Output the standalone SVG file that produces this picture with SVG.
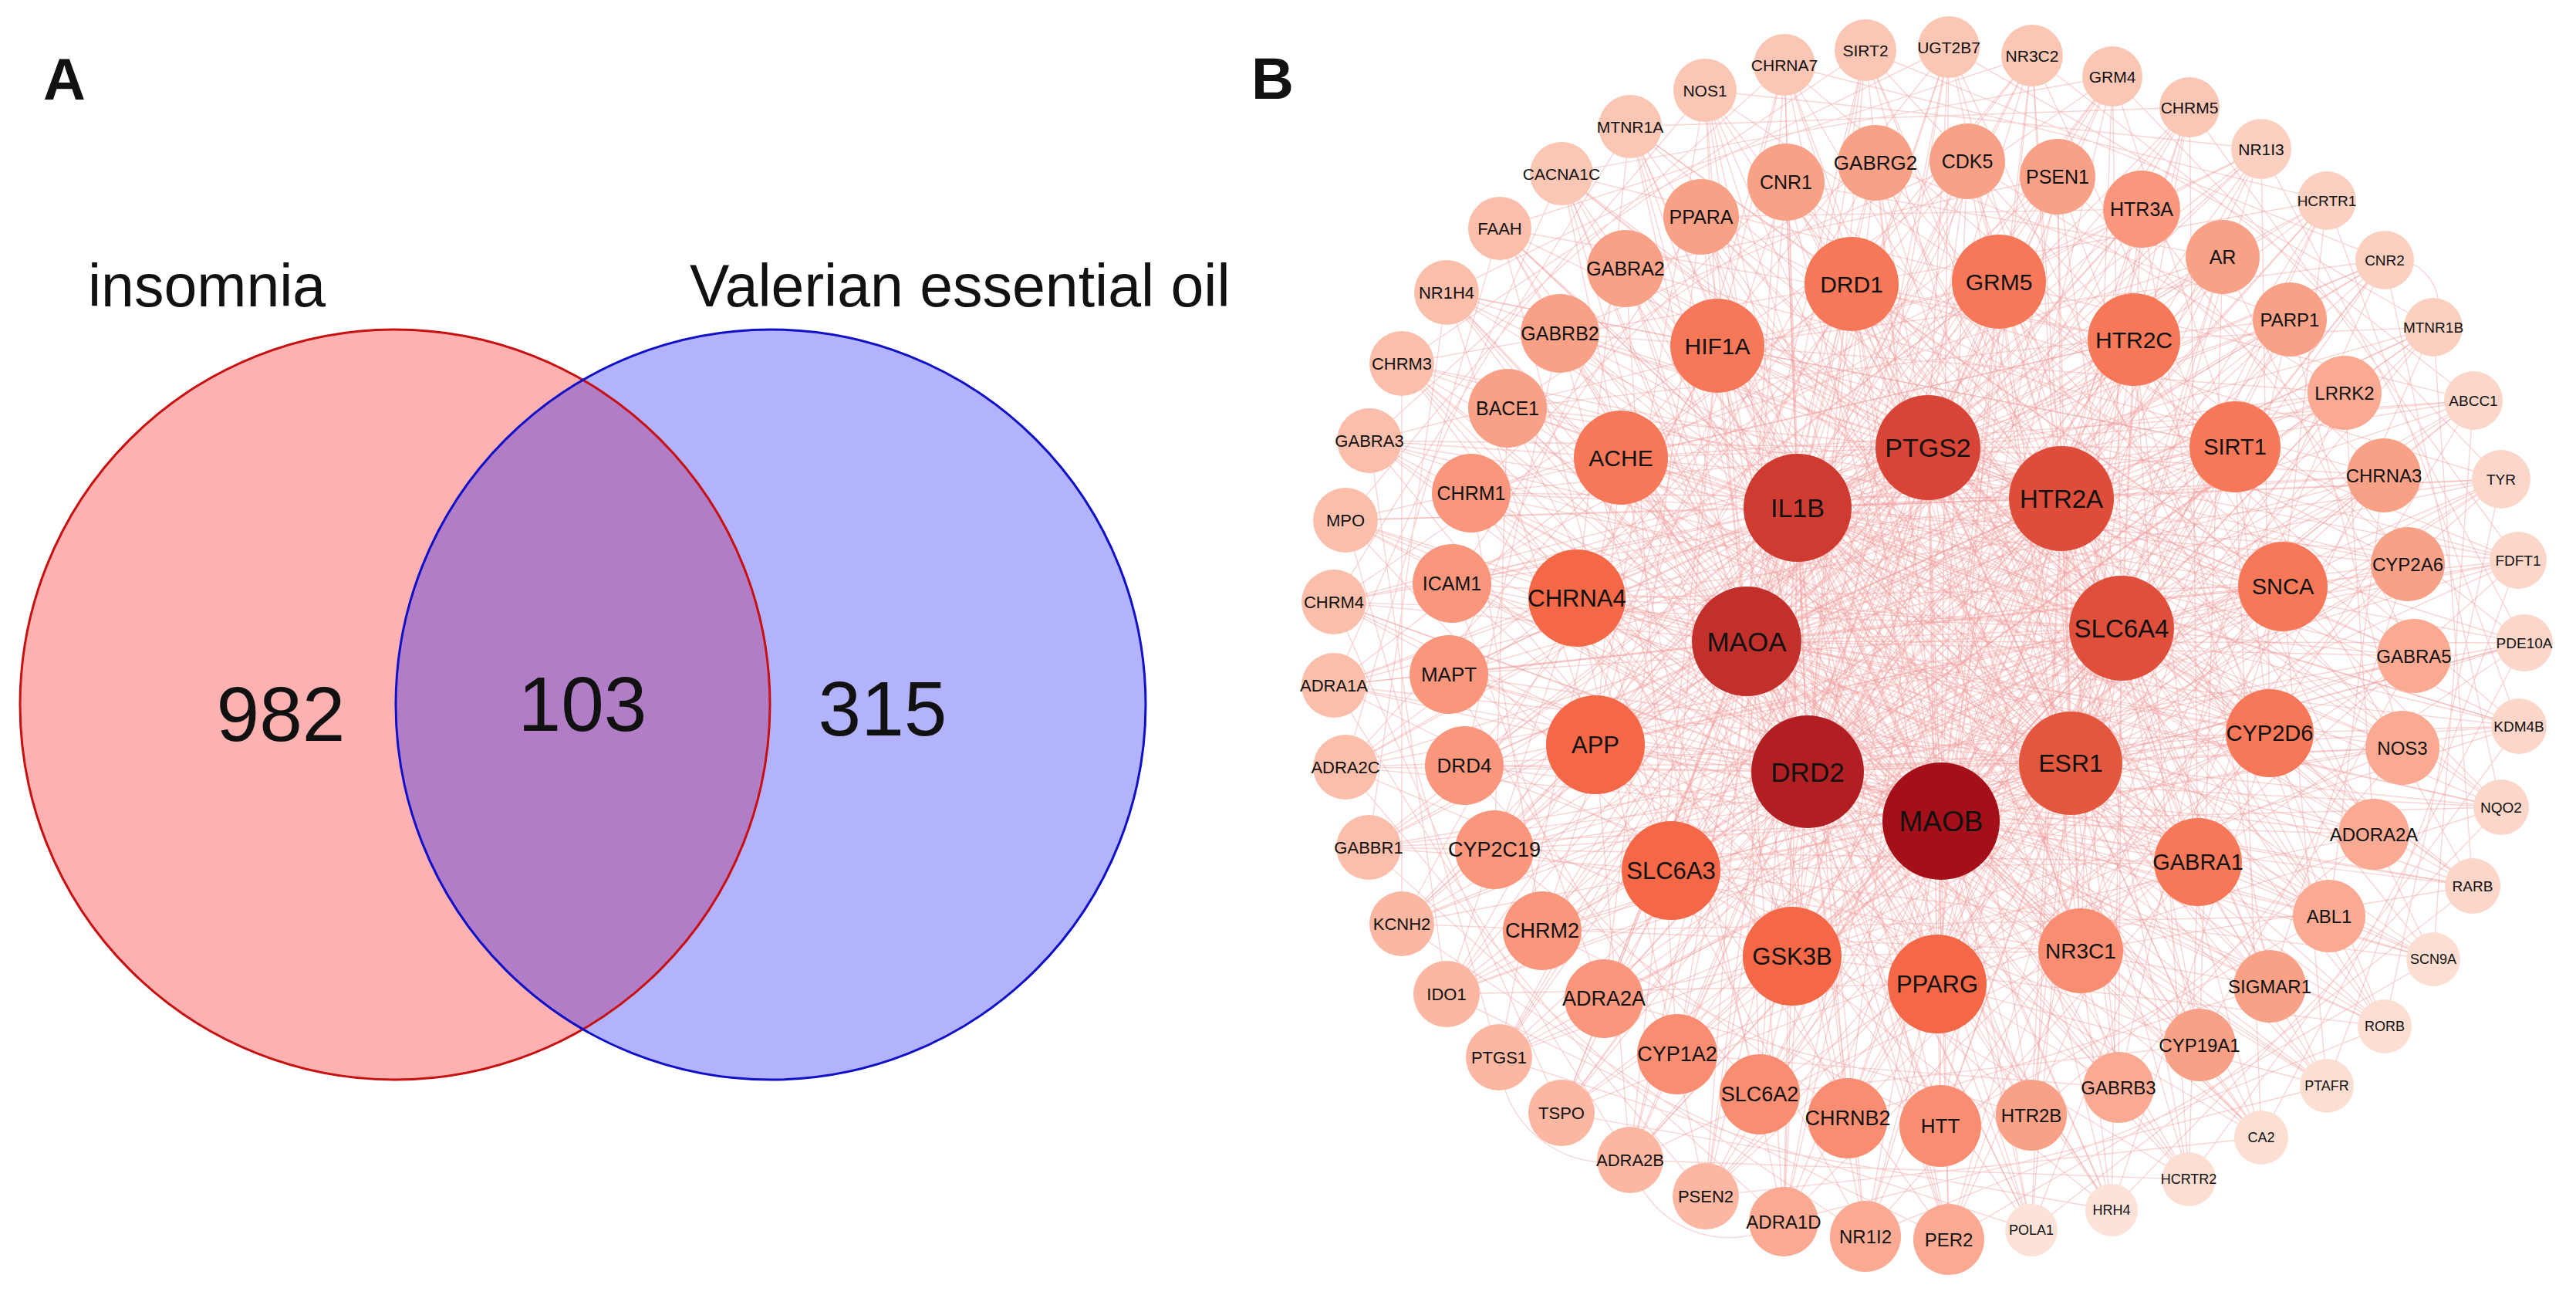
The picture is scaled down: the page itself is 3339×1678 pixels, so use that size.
<svg xmlns="http://www.w3.org/2000/svg" width="3339" height="1678" viewBox="0 0 3339 1678">
<style>
text{font-family:"Liberation Sans",Arial,Helvetica,sans-serif;fill:#111}
.n{text-anchor:middle;dominant-baseline:central}
.pl{font-weight:bold;font-size:76px}
.vl{font-size:77px}
.vn{font-size:100px;text-anchor:middle}
.e{fill:none;stroke:#F19C9C;stroke-opacity:.42;stroke-width:1.4;stroke-linejoin:round}
.l1{fill:#FDE2D8}.l2{fill:#FDDED2}.l3{fill:#FCD6C8}.l4{fill:#FCD0C1}.l5{fill:#FBC6B4}.l6{fill:#FBBEAA}.l7{fill:#FBB7A2}
.l8{fill:#FAAA92}.l9{fill:#F9A187}.l10{fill:#F9967C}.l11{fill:#F88D72}.l12{fill:#F77858}.l13{fill:#F46747}
.c1{fill:#D84536}.c2{fill:#DD4D3A}.c3{fill:#DF4F3B}.c4{fill:#E4573F}.c5{fill:#A40F18}.c6{fill:#B21F23}.c7{fill:#C3302B}.c8{fill:#CF3B31}
</style>
<defs>
<clipPath id="clipL"><circle cx="512" cy="913" r="486"/></clipPath>
</defs>
<rect width="3339" height="1678" fill="#fff"/>

<g id="panel-A">
<text class="pl" x="56" y="129">A</text>
<g id="venn">
<circle id="set-insomnia" cx="512" cy="913" r="486" fill="#FDB1B1"/>
<circle id="set-valerian" cx="999" cy="913" r="486" fill="#B2B2FD"/>
<circle id="set-overlap" cx="999" cy="913" r="486" fill="#B17DC7" clip-path="url(#clipL)"/>
<circle cx="512" cy="913" r="486" fill="none" stroke="#C81010" stroke-width="3"/>
<circle cx="999" cy="913" r="486" fill="none" stroke="#1010C8" stroke-width="3"/>
</g>
<text class="vl" x="114" y="397">insomnia</text>
<text class="vl" x="894" y="397">Valerian essential oil</text>
<text class="vn" x="364" y="960">982</text>
<text class="vn" x="755" y="947">103</text>
<text class="vn" x="1144" y="953">315</text>
</g>

<text class="pl" x="1622" y="128">B</text>

<g id="connectors">
<path class="e" d="M2210 117 2516 1064 2113 164 2516 1064 2024 225 2516 1064 1944 296 2516 1064 1875 379 2516 1064 1817 471 2516 1064 1775 571 2516 1064 1744 674 2516 1064 1729 780 2516 1064 1729 888 2516 1064 1744 994 2516 1064 1774 1098 2516 1064 1817 1197 2516 1064 1875 1288 2516 1064 1943 1370 2516 1064 2024 1442 2516 1064 2113 1503 2516 1064 2211 1550 2516 1064 2312 1583 2516 1064 2418 1602 2516 1064 2526 1606 2516 1064 2633 1594 2516 1064 2737 1568 2516 1064 2837 1528 2516 1064 2931 1474 2516 1064 3016 1407 2516 1064 3091 1330 2516 1064 3154 1243 2516 1064 3205 1148 2516 1064 3242 1046 2516 1064 3265 941 2516 1064 3272 833 2516 1064 3264 726 2516 1064 3242 621 2516 1064 3206 519 2516 1064 3154 424 2516 1064 3091 337 2516 1064 3016 260 2516 1064 2931 193 2516 1064 2838 139 2516 1064 2738 99 2516 1064 2634 72 2516 1064 2526 61 2516 1064 2418 65 2516 1064 2313 84 2516 1064 2205 281 2516 1064 2107 348 2516 1064 2022 432 2516 1064 1954 529 2516 1064 1907 639 2516 1064 1882 756 2516 1064 1878 874 2516 1064 1898 992 2516 1064 1937 1101 2516 1064 1999 1206 2516 1064 2079 1294 2516 1064 2174 1366 2516 1064 2281 1418 2516 1064 2395 1449 2516 1064 2515 1459 2516 1064 2633 1445 2516 1064 2746 1409 2516 1064 2851 1354 2516 1064 2942 1278 2516 1064 3019 1187 2516 1064 3077 1081 2516 1064 3114 969 2516 1064 3129 850 2516 1064 3121 731 2516 1064 3090 616 2516 1064 3039 509 2516 1064 2968 414 2516 1064 2881 333 2516 1064 2776 271 2516 1064 2667 229 2516 1064 2550 209 2516 1064 2431 211 2516 1064 2315 236 2516 1064 2226 448 2516 1064 2400 368 2516 1064 2591 365 2516 1064 2766 440 2516 1064 2897 579 2516 1064 2959 760 2516 1064 2942 950 2516 1064 2849 1117 2516 1064 2697 1232 2516 1064 2511 1275 2516 1064 2323 1239 2516 1064 2166 1128 2516 1064 2068 965 2516 1064 2044 775 2516 1064 2101 593"/>
<path class="e" d="M2210 117 2343 1000 2113 164 2343 1000 2024 225 2343 1000 1944 296 2343 1000 1875 379 2343 1000 1817 471 2343 1000 1775 571 2343 1000 1744 674 2343 1000 1729 780 2343 1000 1729 888 2343 1000 1744 994 2343 1000 1774 1098 2343 1000 1817 1197 2343 1000 1875 1288 2343 1000 1943 1370 2343 1000 2024 1442 2343 1000 2113 1503 2343 1000 2211 1550 2343 1000 2312 1583 2343 1000 2418 1602 2343 1000 2526 1606 2343 1000 2633 1594 2343 1000 2737 1568 2343 1000 2837 1528 2343 1000 2931 1474 2343 1000 3016 1407 2343 1000 3091 1330 2343 1000 3154 1243 2343 1000 3205 1148 2343 1000 3242 1046 2343 1000 3265 941 2343 1000 3272 833 2343 1000 3264 726 2343 1000 3242 621 2343 1000 3206 519 2343 1000 3154 424 2343 1000 3091 337 2343 1000 3016 260 2343 1000 2931 193 2343 1000 2838 139 2343 1000 2738 99 2343 1000 2634 72 2343 1000 2526 61 2343 1000 2418 65 2343 1000 2313 84 2343 1000 2205 281 2343 1000 2107 348 2343 1000 2022 432 2343 1000 1954 529 2343 1000 1907 639 2343 1000 1882 756 2343 1000 1878 874 2343 1000 1898 992 2343 1000 1937 1101 2343 1000 1999 1206 2343 1000 2079 1294 2343 1000 2174 1366 2343 1000 2281 1418 2343 1000 2395 1449 2343 1000 2515 1459 2343 1000 2633 1445 2343 1000 2746 1409 2343 1000 2851 1354 2343 1000 2942 1278 2343 1000 3019 1187 2343 1000 3077 1081 2343 1000 3114 969 2343 1000 3129 850 2343 1000 3121 731 2343 1000 3090 616 2343 1000 3039 509 2343 1000 2968 414 2343 1000 2881 333 2343 1000 2776 271 2343 1000 2667 229 2343 1000 2550 209 2343 1000 2431 211 2343 1000 2315 236 2343 1000 2226 448 2343 1000 2400 368 2343 1000 2591 365 2343 1000 2766 440 2343 1000 2897 579 2343 1000 2959 760 2343 1000 2942 950 2343 1000 2849 1117 2343 1000 2697 1232 2343 1000 2511 1275 2343 1000 2323 1239 2343 1000 2166 1128 2343 1000 2068 965 2343 1000 2044 775 2343 1000 2101 593"/>
<path class="e" d="M2210 117 2264 831 2113 164 2264 831 2024 225 2264 831 1944 296 2264 831 1875 379 2264 831 1817 471 2264 831 1775 571 2264 831 1744 674 2264 831 1729 780 2264 831 1729 888 2264 831 1744 994 2264 831 1774 1098 2264 831 1817 1197 2264 831 1875 1288 2264 831 1943 1370 2264 831 2024 1442 2264 831 2113 1503 2264 831 2211 1550 2264 831 2312 1583 2264 831 2418 1602 2264 831 2526 1606 2264 831 2633 1594 2264 831 2737 1568 2264 831 2837 1528 2264 831 2931 1474 2264 831 3016 1407 2264 831 3091 1330 2264 831 3154 1243 2264 831 3205 1148 2264 831 3242 1046 2264 831 3265 941 2264 831 3272 833 2264 831 3264 726 2264 831 3242 621 2264 831 3206 519 2264 831 3154 424 2264 831 3091 337 2264 831 3016 260 2264 831 2931 193 2264 831 2838 139 2264 831 2738 99 2264 831 2634 72 2264 831 2526 61 2264 831 2418 65 2264 831 2313 84 2264 831 2205 281 2264 831 2107 348 2264 831 2022 432 2264 831 1954 529 2264 831 1907 639 2264 831 1882 756 2264 831 1878 874 2264 831 1898 992 2264 831 1937 1101 2264 831 1999 1206 2264 831 2079 1294 2264 831 2174 1366 2264 831 2281 1418 2264 831 2395 1449 2264 831 2515 1459 2264 831 2633 1445 2264 831 2746 1409 2264 831 2851 1354 2264 831 2942 1278 2264 831 3019 1187 2264 831 3077 1081 2264 831 3114 969 2264 831 3129 850 2264 831 3121 731 2264 831 3090 616 2264 831 3039 509 2264 831 2968 414 2264 831 2881 333 2264 831 2776 271 2264 831 2667 229 2264 831 2550 209 2264 831 2431 211 2264 831 2315 236 2264 831 2226 448 2264 831 2400 368 2264 831 2591 365 2264 831 2766 440 2264 831 2897 579 2264 831 2959 760 2264 831 2942 950 2264 831 2849 1117 2264 831 2697 1232 2264 831 2511 1275 2264 831 2323 1239 2264 831 2166 1128 2264 831 2068 965 2264 831 2044 775 2264 831 2101 593"/>
<path class="e" d="M2210 117 2330 658 2113 164 2330 658 2024 225 2330 658 1944 296 2330 658 1875 379 2330 658 1817 471 2330 658 1775 571 2330 658 1744 674 2330 658 1729 780 2330 658 1729 888 2330 658 1744 994 2330 658 1774 1098 2330 658 1817 1197 2330 658 1875 1288 2330 658 1943 1370 2330 658 2024 1442 2330 658 2113 1503 2330 658 2211 1550 2330 658 2312 1583 2330 658 2418 1602 2330 658 2526 1606 2330 658 2633 1594 2330 658 2737 1568 2330 658 2837 1528 2330 658 2931 1474 2330 658 3016 1407 2330 658 3091 1330 2330 658 3154 1243 2330 658 3205 1148 2330 658 3242 1046 2330 658 3265 941 2330 658 3272 833 2330 658 3264 726 2330 658 3242 621 2330 658 3206 519 2330 658 3154 424 2330 658 3091 337 2330 658 3016 260 2330 658 2931 193 2330 658 2838 139 2330 658 2738 99 2330 658 2634 72 2330 658 2526 61 2330 658 2418 65 2330 658 2313 84 2330 658 2205 281 2330 658 2107 348 2330 658 2022 432 2330 658 1954 529 2330 658 1907 639 2330 658 1882 756 2330 658 1878 874 2330 658 1898 992 2330 658 1937 1101 2330 658 1999 1206 2330 658 2079 1294 2330 658 2174 1366 2330 658 2281 1418 2330 658 2395 1449 2330 658 2515 1459 2330 658 2633 1445 2330 658 2746 1409 2330 658 2851 1354 2330 658 2942 1278 2330 658 3019 1187 2330 658 3077 1081 2330 658 3114 969 2330 658 3129 850 2330 658 3121 731 2330 658 3090 616 2330 658 3039 509 2330 658 2968 414 2330 658 2881 333 2330 658 2776 271 2330 658 2667 229 2330 658 2550 209 2330 658 2431 211 2330 658 2315 236 2330 658 2226 448 2330 658 2400 368 2330 658 2591 365 2330 658 2766 440 2330 658 2897 579 2330 658 2959 760 2330 658 2942 950 2330 658 2849 1117 2330 658 2697 1232 2330 658 2511 1275 2330 658 2323 1239 2330 658 2166 1128 2330 658 2068 965 2330 658 2044 775 2330 658 2101 593"/>
<path class="e" d="M2210 117 2499 580 2024 225 2499 580 1875 379 2499 580 1775 571 2499 580 1729 780 2499 580 1744 994 2499 580 1817 1197 2499 580 1943 1370 2499 580 2113 1503 2499 580 2312 1583 2499 580 2526 1606 2499 580 2737 1568 2499 580 2931 1474 2499 580 3091 1330 2499 580 3205 1148 2499 580 3265 941 2499 580 3264 726 2499 580 3206 519 2499 580 3091 337 2499 580 2931 193 2499 580 2738 99 2499 580 2526 61 2499 580 2313 84 2499 580 2205 281 2499 580 2107 348 2499 580 2022 432 2499 580 1954 529 2499 580 1907 639 2499 580 1882 756 2499 580 1878 874 2499 580 1898 992 2499 580 1937 1101 2499 580 1999 1206 2499 580 2079 1294 2499 580 2174 1366 2499 580 2281 1418 2499 580 2395 1449 2499 580 2515 1459 2499 580 2633 1445 2499 580 2746 1409 2499 580 2851 1354 2499 580 2942 1278 2499 580 3019 1187 2499 580 3077 1081 2499 580 3114 969 2499 580 3129 850 2499 580 3121 731 2499 580 3090 616 2499 580 3039 509 2499 580 2968 414 2499 580 2881 333 2499 580 2776 271 2499 580 2667 229 2499 580 2550 209 2499 580 2431 211 2499 580 2315 236 2499 580 2226 448 2499 580 2400 368 2499 580 2591 365 2499 580 2766 440 2499 580 2897 579 2499 580 2959 760 2499 580 2942 950 2499 580 2849 1117 2499 580 2697 1232 2499 580 2511 1275 2499 580 2323 1239 2499 580 2166 1128 2499 580 2068 965 2499 580 2044 775 2499 580 2101 593"/>
<path class="e" d="M2113 164 2672 646 1944 296 2672 646 1817 471 2672 646 1744 674 2672 646 1729 888 2672 646 1774 1098 2672 646 1875 1288 2672 646 2024 1442 2672 646 2211 1550 2672 646 2418 1602 2672 646 2633 1594 2672 646 2837 1528 2672 646 3016 1407 2672 646 3154 1243 2672 646 3242 1046 2672 646 3272 833 2672 646 3242 621 2672 646 3154 424 2672 646 3016 260 2672 646 2838 139 2672 646 2634 72 2672 646 2418 65 2672 646 2205 281 2672 646 2107 348 2672 646 2022 432 2672 646 1954 529 2672 646 1907 639 2672 646 1882 756 2672 646 1878 874 2672 646 1898 992 2672 646 1937 1101 2672 646 1999 1206 2672 646 2079 1294 2672 646 2174 1366 2672 646 2281 1418 2672 646 2395 1449 2672 646 2515 1459 2672 646 2633 1445 2672 646 2746 1409 2672 646 2851 1354 2672 646 2942 1278 2672 646 3019 1187 2672 646 3077 1081 2672 646 3114 969 2672 646 3129 850 2672 646 3121 731 2672 646 3090 616 2672 646 3039 509 2672 646 2968 414 2672 646 2881 333 2672 646 2776 271 2672 646 2667 229 2672 646 2550 209 2672 646 2431 211 2672 646 2315 236 2672 646 2226 448 2672 646 2400 368 2672 646 2591 365 2672 646 2766 440 2672 646 2897 579 2672 646 2959 760 2672 646 2942 950 2672 646 2849 1117 2672 646 2697 1232 2672 646 2511 1275 2672 646 2323 1239 2672 646 2166 1128 2672 646 2068 965 2672 646 2044 775 2672 646 2101 593"/>
<path class="e" d="M2210 117 2750 814 2024 225 2750 814 1875 379 2750 814 1775 571 2750 814 1729 780 2750 814 1744 994 2750 814 1817 1197 2750 814 1943 1370 2750 814 2113 1503 2750 814 2312 1583 2750 814 2526 1606 2750 814 2737 1568 2750 814 2931 1474 2750 814 3091 1330 2750 814 3205 1148 2750 814 3265 941 2750 814 3264 726 2750 814 3206 519 2750 814 3091 337 2750 814 2931 193 2750 814 2738 99 2750 814 2526 61 2750 814 2313 84 2750 814 2205 281 2750 814 2107 348 2750 814 2022 432 2750 814 1954 529 2750 814 1907 639 2750 814 1882 756 2750 814 1878 874 2750 814 1898 992 2750 814 1937 1101 2750 814 1999 1206 2750 814 2079 1294 2750 814 2174 1366 2750 814 2281 1418 2750 814 2395 1449 2750 814 2515 1459 2750 814 2633 1445 2750 814 2746 1409 2750 814 2851 1354 2750 814 2942 1278 2750 814 3019 1187 2750 814 3077 1081 2750 814 3114 969 2750 814 3129 850 2750 814 3121 731 2750 814 3090 616 2750 814 3039 509 2750 814 2968 414 2750 814 2881 333 2750 814 2776 271 2750 814 2667 229 2750 814 2550 209 2750 814 2431 211 2750 814 2315 236 2750 814 2226 448 2750 814 2400 368 2750 814 2591 365 2750 814 2766 440 2750 814 2897 579 2750 814 2959 760 2750 814 2942 950 2750 814 2849 1117 2750 814 2697 1232 2750 814 2511 1275 2750 814 2323 1239 2750 814 2166 1128 2750 814 2068 965 2750 814 2044 775 2750 814 2101 593"/>
<path class="e" d="M2113 164 2684 989 1944 296 2684 989 1817 471 2684 989 1744 674 2684 989 1729 888 2684 989 1774 1098 2684 989 1875 1288 2684 989 2024 1442 2684 989 2211 1550 2684 989 2418 1602 2684 989 2633 1594 2684 989 2837 1528 2684 989 3016 1407 2684 989 3154 1243 2684 989 3242 1046 2684 989 3272 833 2684 989 3242 621 2684 989 3154 424 2684 989 3016 260 2684 989 2838 139 2684 989 2634 72 2684 989 2418 65 2684 989 2205 281 2684 989 2107 348 2684 989 2022 432 2684 989 1954 529 2684 989 1907 639 2684 989 1882 756 2684 989 1878 874 2684 989 1898 992 2684 989 1937 1101 2684 989 1999 1206 2684 989 2079 1294 2684 989 2174 1366 2684 989 2281 1418 2684 989 2395 1449 2684 989 2515 1459 2684 989 2633 1445 2684 989 2746 1409 2684 989 2851 1354 2684 989 2942 1278 2684 989 3019 1187 2684 989 3077 1081 2684 989 3114 969 2684 989 3129 850 2684 989 3121 731 2684 989 3090 616 2684 989 3039 509 2684 989 2968 414 2684 989 2881 333 2684 989 2776 271 2684 989 2667 229 2684 989 2550 209 2684 989 2431 211 2684 989 2315 236 2684 989 2226 448 2684 989 2400 368 2684 989 2591 365 2684 989 2766 440 2684 989 2897 579 2684 989 2959 760 2684 989 2942 950 2684 989 2849 1117 2684 989 2697 1232 2684 989 2511 1275 2684 989 2323 1239 2684 989 2166 1128 2684 989 2068 965 2684 989 2044 775 2684 989 2101 593"/>
<path class="e" d="M2499 580 2672 646 2750 814 2684 989 2516 1064 2343 1000 2264 831 2330 658 2499 580 2750 814 2516 1064 2264 831 2499 580M2672 646 2684 989 2343 1000 2330 658 2672 646M2499 580 2684 989 2264 831 2672 646 2516 1064 2330 658 2750 814 2343 1000 2499 580M2499 580 2516 1064M2672 646 2343 1000M2750 814 2264 831M2684 989 2330 658"/>
<path class="e" d="M2210 117 2226 448 1875 379 2226 448 1729 780 2226 448 1817 1197 2226 448 2113 1503 2226 448 2526 1606 2226 448 2931 1474 2226 448 3205 1148 2226 448 3264 726 2226 448 3091 337 2226 448 2738 99 2226 448 2313 84"/>
<path class="e" d="M2113 164 2400 368 1817 471 2400 368 1729 888 2400 368 1875 1288 2400 368 2211 1550 2400 368 2633 1594 2400 368 3016 1407 2400 368 3242 1046 2400 368 3242 621 2400 368 3016 260 2400 368 2634 72"/>
<path class="e" d="M2024 225 2591 365 1775 571 2591 365 1744 994 2591 365 1943 1370 2591 365 2312 1583 2591 365 2737 1568 2591 365 3091 1330 2591 365 3265 941 2591 365 3206 519 2591 365 2931 193 2591 365 2526 61"/>
<path class="e" d="M1944 296 2766 440 1744 674 2766 440 1774 1098 2766 440 2024 1442 2766 440 2418 1602 2766 440 2837 1528 2766 440 3154 1243 2766 440 3272 833 2766 440 3154 424 2766 440 2838 139 2766 440 2418 65"/>
<path class="e" d="M2210 117 2897 579 1875 379 2897 579 1729 780 2897 579 1817 1197 2897 579 2113 1503 2897 579 2526 1606 2897 579 2931 1474 2897 579 3205 1148 2897 579 3264 726 2897 579 3091 337 2897 579 2738 99 2897 579 2313 84"/>
<path class="e" d="M2113 164 2959 760 1817 471 2959 760 1729 888 2959 760 1875 1288 2959 760 2211 1550 2959 760 2633 1594 2959 760 3016 1407 2959 760 3242 1046 2959 760 3242 621 2959 760 3016 260 2959 760 2634 72"/>
<path class="e" d="M2024 225 2942 950 1775 571 2942 950 1744 994 2942 950 1943 1370 2942 950 2312 1583 2942 950 2737 1568 2942 950 3091 1330 2942 950 3265 941 2942 950 3206 519 2942 950 2931 193 2942 950 2526 61"/>
<path class="e" d="M1944 296 2849 1117 1744 674 2849 1117 1774 1098 2849 1117 2024 1442 2849 1117 2418 1602 2849 1117 2837 1528 2849 1117 3154 1243 2849 1117 3272 833 2849 1117 3154 424 2849 1117 2838 139 2849 1117 2418 65"/>
<path class="e" d="M2210 117 2697 1232 1875 379 2697 1232 1729 780 2697 1232 1817 1197 2697 1232 2113 1503 2697 1232 2526 1606 2697 1232 2931 1474 2697 1232 3205 1148 2697 1232 3264 726 2697 1232 3091 337 2697 1232 2738 99 2697 1232 2313 84"/>
<path class="e" d="M2113 164 2511 1275 1817 471 2511 1275 1729 888 2511 1275 1875 1288 2511 1275 2211 1550 2511 1275 2633 1594 2511 1275 3016 1407 2511 1275 3242 1046 2511 1275 3242 621 2511 1275 3016 260 2511 1275 2634 72"/>
<path class="e" d="M2024 225 2323 1239 1775 571 2323 1239 1744 994 2323 1239 1943 1370 2323 1239 2312 1583 2323 1239 2737 1568 2323 1239 3091 1330 2323 1239 3265 941 2323 1239 3206 519 2323 1239 2931 193 2323 1239 2526 61"/>
<path class="e" d="M1944 296 2166 1128 1744 674 2166 1128 1774 1098 2166 1128 2024 1442 2166 1128 2418 1602 2166 1128 2837 1528 2166 1128 3154 1243 2166 1128 3272 833 2166 1128 3154 424 2166 1128 2838 139 2166 1128 2418 65"/>
<path class="e" d="M2210 117 2068 965 1875 379 2068 965 1729 780 2068 965 1817 1197 2068 965 2113 1503 2068 965 2526 1606 2068 965 2931 1474 2068 965 3205 1148 2068 965 3264 726 2068 965 3091 337 2068 965 2738 99 2068 965 2313 84"/>
<path class="e" d="M2113 164 2044 775 1817 471 2044 775 1729 888 2044 775 1875 1288 2044 775 2211 1550 2044 775 2633 1594 2044 775 3016 1407 2044 775 3242 1046 2044 775 3242 621 2044 775 3016 260 2044 775 2634 72"/>
<path class="e" d="M2024 225 2101 593 1775 571 2101 593 1744 994 2101 593 1943 1370 2101 593 2312 1583 2101 593 2737 1568 2101 593 3091 1330 2101 593 3265 941 2101 593 3206 519 2101 593 2931 193 2101 593 2526 61"/>
<path class="e" d="M2226 448 2591 365 2897 579 2942 950 2697 1232 2323 1239 2068 965 2101 593 2400 368 2766 440 2959 760 2849 1117 2511 1275 2166 1128 2044 775 2226 448"/>
<path class="e" d="M2226 448 2897 579 2697 1232 2068 965 2400 368 2959 760 2511 1275 2044 775 2591 365 2942 950 2323 1239 2101 593 2766 440 2849 1117 2166 1128 2226 448"/>
<path class="e" d="M2226 448 2849 1117 2101 593 2942 950 2044 775 2959 760 2068 965 2897 579 2166 1128 2766 440 2323 1239 2591 365 2511 1275 2400 368 2697 1232 2226 448"/>
<path class="e" d="M2205 281 2079 1294 3077 1081 2550 209 1898 992 2851 1354 2881 333 1907 639 2515 1459 3090 616 2107 348 2174 1366 3114 969 2431 211 1937 1101 2942 1278 2776 271 1882 756 2633 1445 3039 509 2022 432 2281 1418 3129 850 2315 236 1999 1206 3019 1187 2667 229 1878 874 2746 1409 2968 414 1954 529 2395 1449 3121 731 2205 281"/>
<path class="e" d="M2205 281 1882 756 2079 1294 2633 1445 3077 1081 3039 509 2550 209 2022 432 1898 992 2281 1418 2851 1354 3129 850 2881 333 2315 236 1907 639 1999 1206 2515 1459 3019 1187 3090 616 2667 229 2107 348 1878 874 2174 1366 2746 1409 3114 969 2968 414 2431 211 1954 529 1937 1101 2395 1449 2942 1278 3121 731 2776 271 2205 281"/>
<path class="e" d="M2210 117 1744 674 1943 1370 2633 1594 3205 1148 3154 424 2526 61 1875 379 1774 1098 2312 1583 3016 1407 3264 726 2838 139 2113 164 1729 780 2024 1442 2737 1568 3242 1046 3091 337 2418 65 1817 471 1817 1197 2418 1602 3091 1330 3242 621 2738 99 2024 225 1729 888 2113 1503 2837 1528 3265 941 3016 260 2313 84 1775 571 1875 1288 2526 1606 3154 1243 3206 519 2634 72 1944 296 1744 994 2211 1550 2931 1474 3272 833 2931 193 2210 117"/>
<path class="e" d="M1943 1370A140 140 0 0 0 2113 1503M2113 1503A132 132 0 0 0 2312 1583M3091 337A60 60 0 0 1 3154 424"/>
</g>

<g id="nodes">
<g id="node-NOS1"><circle class="l5" cx="2210" cy="117" r="41"/><text class="n" x="2210" y="117" font-size="21">NOS1</text></g>
<g id="node-MTNR1A"><circle class="l5" cx="2113" cy="164" r="41"/><text class="n" x="2113" y="164" font-size="21">MTNR1A</text></g>
<g id="node-CACNA1C"><circle class="l5" cx="2024" cy="225" r="41"/><text class="n" x="2024" y="225" font-size="21">CACNA1C</text></g>
<g id="node-FAAH"><circle class="l6" cx="1944" cy="296" r="41"/><text class="n" x="1944" y="296" font-size="22">FAAH</text></g>
<g id="node-NR1H4"><circle class="l6" cx="1875" cy="379" r="42"/><text class="n" x="1875" y="379" font-size="22">NR1H4</text></g>
<g id="node-CHRM3"><circle class="l6" cx="1817" cy="471" r="42"/><text class="n" x="1817" y="471" font-size="22">CHRM3</text></g>
<g id="node-GABRA3"><circle class="l6" cx="1775" cy="571" r="42"/><text class="n" x="1775" y="571" font-size="22">GABRA3</text></g>
<g id="node-MPO"><circle class="l6" cx="1744" cy="674" r="42"/><text class="n" x="1744" y="674" font-size="22">MPO</text></g>
<g id="node-CHRM4"><circle class="l6" cx="1729" cy="780" r="42"/><text class="n" x="1729" y="780" font-size="22">CHRM4</text></g>
<g id="node-ADRA1A"><circle class="l6" cx="1729" cy="888" r="42"/><text class="n" x="1729" y="888" font-size="22">ADRA1A</text></g>
<g id="node-ADRA2C"><circle class="l6" cx="1744" cy="994" r="42"/><text class="n" x="1744" y="994" font-size="22">ADRA2C</text></g>
<g id="node-GABBR1"><circle class="l6" cx="1774" cy="1098" r="42"/><text class="n" x="1774" y="1098" font-size="22">GABBR1</text></g>
<g id="node-KCNH2"><circle class="l7" cx="1817" cy="1197" r="42"/><text class="n" x="1817" y="1197" font-size="22">KCNH2</text></g>
<g id="node-IDO1"><circle class="l7" cx="1875" cy="1288" r="43"/><text class="n" x="1875" y="1288" font-size="22">IDO1</text></g>
<g id="node-PTGS1"><circle class="l7" cx="1943" cy="1370" r="43"/><text class="n" x="1943" y="1370" font-size="22">PTGS1</text></g>
<g id="node-TSPO"><circle class="l7" cx="2024" cy="1442" r="43"/><text class="n" x="2024" y="1442" font-size="22">TSPO</text></g>
<g id="node-ADRA2B"><circle class="l7" cx="2113" cy="1503" r="43"/><text class="n" x="2113" y="1503" font-size="22">ADRA2B</text></g>
<g id="node-PSEN2"><circle class="l7" cx="2211" cy="1550" r="43"/><text class="n" x="2211" y="1550" font-size="22">PSEN2</text></g>
<g id="node-ADRA1D"><circle class="l8" cx="2312" cy="1583" r="45"/><text class="n" x="2312" y="1583" font-size="24">ADRA1D</text></g>
<g id="node-NR1I2"><circle class="l8" cx="2418" cy="1602" r="46"/><text class="n" x="2418" y="1602" font-size="24">NR1I2</text></g>
<g id="node-PER2"><circle class="l8" cx="2526" cy="1606" r="46"/><text class="n" x="2526" y="1606" font-size="24">PER2</text></g>
<g id="node-POLA1"><circle class="l1" cx="2633" cy="1594" r="34"/><text class="n" x="2633" y="1594" font-size="18">POLA1</text></g>
<g id="node-HRH4"><circle class="l1" cx="2737" cy="1568" r="34"/><text class="n" x="2737" y="1568" font-size="18">HRH4</text></g>
<g id="node-HCRTR2"><circle class="l2" cx="2837" cy="1528" r="35"/><text class="n" x="2837" y="1528" font-size="18">HCRTR2</text></g>
<g id="node-CA2"><circle class="l2" cx="2931" cy="1474" r="35"/><text class="n" x="2931" y="1474" font-size="18">CA2</text></g>
<g id="node-PTAFR"><circle class="l2" cx="3016" cy="1407" r="35"/><text class="n" x="3016" y="1407" font-size="18">PTAFR</text></g>
<g id="node-RORB"><circle class="l2" cx="3091" cy="1330" r="35"/><text class="n" x="3091" y="1330" font-size="18">RORB</text></g>
<g id="node-SCN9A"><circle class="l2" cx="3154" cy="1243" r="35"/><text class="n" x="3154" y="1243" font-size="18">SCN9A</text></g>
<g id="node-RARB"><circle class="l3" cx="3205" cy="1148" r="36"/><text class="n" x="3205" y="1148" font-size="19">RARB</text></g>
<g id="node-NQO2"><circle class="l3" cx="3242" cy="1046" r="36"/><text class="n" x="3242" y="1046" font-size="19">NQO2</text></g>
<g id="node-KDM4B"><circle class="l3" cx="3265" cy="941" r="36"/><text class="n" x="3265" y="941" font-size="19">KDM4B</text></g>
<g id="node-PDE10A"><circle class="l3" cx="3272" cy="833" r="37"/><text class="n" x="3272" y="833" font-size="19">PDE10A</text></g>
<g id="node-FDFT1"><circle class="l3" cx="3264" cy="726" r="37"/><text class="n" x="3264" y="726" font-size="19">FDFT1</text></g>
<g id="node-TYR"><circle class="l3" cx="3242" cy="621" r="38"/><text class="n" x="3242" y="621" font-size="19">TYR</text></g>
<g id="node-ABCC1"><circle class="l3" cx="3206" cy="519" r="38"/><text class="n" x="3206" y="519" font-size="19">ABCC1</text></g>
<g id="node-MTNR1B"><circle class="l4" cx="3154" cy="424" r="38"/><text class="n" x="3154" y="424" font-size="19">MTNR1B</text></g>
<g id="node-CNR2"><circle class="l4" cx="3091" cy="337" r="38"/><text class="n" x="3091" y="337" font-size="19">CNR2</text></g>
<g id="node-HCRTR1"><circle class="l4" cx="3016" cy="260" r="38"/><text class="n" x="3016" y="260" font-size="19">HCRTR1</text></g>
<g id="node-NR1I3"><circle class="l4" cx="2931" cy="193" r="39"/><text class="n" x="2931" y="193" font-size="21">NR1I3</text></g>
<g id="node-CHRM5"><circle class="l5" cx="2838" cy="139" r="39"/><text class="n" x="2838" y="139" font-size="21">CHRM5</text></g>
<g id="node-GRM4"><circle class="l5" cx="2738" cy="99" r="39"/><text class="n" x="2738" y="99" font-size="21">GRM4</text></g>
<g id="node-NR3C2"><circle class="l5" cx="2634" cy="72" r="40"/><text class="n" x="2634" y="72" font-size="21">NR3C2</text></g>
<g id="node-UGT2B7"><circle class="l5" cx="2526" cy="61" r="40"/><text class="n" x="2526" y="61" font-size="21">UGT2B7</text></g>
<g id="node-SIRT2"><circle class="l5" cx="2418" cy="65" r="40"/><text class="n" x="2418" y="65" font-size="21">SIRT2</text></g>
<g id="node-CHRNA7"><circle class="l5" cx="2313" cy="84" r="40"/><text class="n" x="2313" y="84" font-size="21">CHRNA7</text></g>

<g id="node-PPARA"><circle class="l9" cx="2205" cy="281" r="49"/><text class="n" x="2205" y="281" font-size="25">PPARA</text></g>
<g id="node-GABRA2"><circle class="l9" cx="2107" cy="348" r="50"/><text class="n" x="2107" y="348" font-size="25">GABRA2</text></g>
<g id="node-GABRB2"><circle class="l9" cx="2022" cy="432" r="51"/><text class="n" x="2022" y="432" font-size="25">GABRB2</text></g>
<g id="node-BACE1"><circle class="l9" cx="1954" cy="529" r="51"/><text class="n" x="1954" y="529" font-size="25">BACE1</text></g>
<g id="node-CHRM1"><circle class="l10" cx="1907" cy="639" r="51"/><text class="n" x="1907" y="639" font-size="25">CHRM1</text></g>
<g id="node-ICAM1"><circle class="l10" cx="1882" cy="756" r="51"/><text class="n" x="1882" y="756" font-size="25">ICAM1</text></g>
<g id="node-MAPT"><circle class="l10" cx="1878" cy="874" r="51"/><text class="n" x="1878" y="874" font-size="26">MAPT</text></g>
<g id="node-DRD4"><circle class="l10" cx="1898" cy="992" r="51"/><text class="n" x="1898" y="992" font-size="26">DRD4</text></g>
<g id="node-CYP2C19"><circle class="l10" cx="1937" cy="1101" r="51"/><text class="n" x="1937" y="1101" font-size="27">CYP2C19</text></g>
<g id="node-CHRM2"><circle class="l10" cx="1999" cy="1206" r="51"/><text class="n" x="1999" y="1206" font-size="27">CHRM2</text></g>
<g id="node-ADRA2A"><circle class="l10" cx="2079" cy="1294" r="51"/><text class="n" x="2079" y="1294" font-size="27">ADRA2A</text></g>
<g id="node-CYP1A2"><circle class="l11" cx="2174" cy="1366" r="52"/><text class="n" x="2174" y="1366" font-size="27">CYP1A2</text></g>
<g id="node-SLC6A2"><circle class="l11" cx="2281" cy="1418" r="52"/><text class="n" x="2281" y="1418" font-size="27">SLC6A2</text></g>
<g id="node-CHRNB2"><circle class="l11" cx="2395" cy="1449" r="52"/><text class="n" x="2395" y="1449" font-size="27">CHRNB2</text></g>
<g id="node-HTT"><circle class="l11" cx="2515" cy="1459" r="53"/><text class="n" x="2515" y="1459" font-size="26">HTT</text></g>
<g id="node-HTR2B"><circle class="l9" cx="2633" cy="1445" r="46"/><text class="n" x="2633" y="1445" font-size="24">HTR2B</text></g>
<g id="node-GABRB3"><circle class="l8" cx="2746" cy="1409" r="46"/><text class="n" x="2746" y="1409" font-size="24">GABRB3</text></g>
<g id="node-CYP19A1"><circle class="l9" cx="2851" cy="1354" r="47"/><text class="n" x="2851" y="1354" font-size="24">CYP19A1</text></g>
<g id="node-SIGMAR1"><circle class="l9" cx="2942" cy="1278" r="47"/><text class="n" x="2942" y="1278" font-size="24">SIGMAR1</text></g>
<g id="node-ABL1"><circle class="l8" cx="3019" cy="1187" r="47"/><text class="n" x="3019" y="1187" font-size="24">ABL1</text></g>
<g id="node-ADORA2A"><circle class="l8" cx="3077" cy="1081" r="46"/><text class="n" x="3077" y="1081" font-size="24">ADORA2A</text></g>
<g id="node-NOS3"><circle class="l8" cx="3114" cy="969" r="48"/><text class="n" x="3114" y="969" font-size="24">NOS3</text></g>
<g id="node-GABRA5"><circle class="l8" cx="3129" cy="850" r="48"/><text class="n" x="3129" y="850" font-size="24">GABRA5</text></g>
<g id="node-CYP2A6"><circle class="l9" cx="3121" cy="731" r="48"/><text class="n" x="3121" y="731" font-size="24">CYP2A6</text></g>
<g id="node-CHRNA3"><circle class="l9" cx="3090" cy="616" r="48"/><text class="n" x="3090" y="616" font-size="24">CHRNA3</text></g>
<g id="node-LRRK2"><circle class="l8" cx="3039" cy="509" r="48"/><text class="n" x="3039" y="509" font-size="24">LRRK2</text></g>
<g id="node-PARP1"><circle class="l9" cx="2968" cy="414" r="48"/><text class="n" x="2968" y="414" font-size="24">PARP1</text></g>
<g id="node-AR"><circle class="l9" cx="2881" cy="333" r="48"/><text class="n" x="2881" y="333" font-size="25">AR</text></g>
<g id="node-HTR3A"><circle class="l10" cx="2776" cy="271" r="50"/><text class="n" x="2776" y="271" font-size="25">HTR3A</text></g>
<g id="node-PSEN1"><circle class="l9" cx="2667" cy="229" r="49"/><text class="n" x="2667" y="229" font-size="25">PSEN1</text></g>
<g id="node-CDK5"><circle class="l9" cx="2550" cy="209" r="49"/><text class="n" x="2550" y="209" font-size="25">CDK5</text></g>
<g id="node-GABRG2"><circle class="l9" cx="2431" cy="211" r="49"/><text class="n" x="2431" y="211" font-size="26">GABRG2</text></g>
<g id="node-CNR1"><circle class="l9" cx="2315" cy="236" r="50"/><text class="n" x="2315" y="236" font-size="25">CNR1</text></g>

<g id="node-HIF1A"><circle class="l12" cx="2226" cy="448" r="61"/><text class="n" x="2226" y="448" font-size="30">HIF1A</text></g>
<g id="node-DRD1"><circle class="l12" cx="2400" cy="368" r="61"/><text class="n" x="2400" y="368" font-size="30">DRD1</text></g>
<g id="node-GRM5"><circle class="l12" cx="2591" cy="365" r="61"/><text class="n" x="2591" y="365" font-size="30">GRM5</text></g>
<g id="node-HTR2C"><circle class="l12" cx="2766" cy="440" r="60"/><text class="n" x="2766" y="440" font-size="30">HTR2C</text></g>
<g id="node-SIRT1"><circle class="l12" cx="2897" cy="579" r="59"/><text class="n" x="2897" y="579" font-size="29">SIRT1</text></g>
<g id="node-SNCA"><circle class="l12" cx="2959" cy="760" r="58"/><text class="n" x="2959" y="760" font-size="29">SNCA</text></g>
<g id="node-CYP2D6"><circle class="l12" cx="2942" cy="950" r="57"/><text class="n" x="2942" y="950" font-size="29">CYP2D6</text></g>
<g id="node-GABRA1"><circle class="l12" cx="2849" cy="1117" r="57"/><text class="n" x="2849" y="1117" font-size="29">GABRA1</text></g>
<g id="node-NR3C1"><circle class="l11" cx="2697" cy="1232" r="55"/><text class="n" x="2697" y="1232" font-size="28">NR3C1</text></g>
<g id="node-PPARG"><circle class="l13" cx="2511" cy="1275" r="64"/><text class="n" x="2511" y="1275" font-size="31">PPARG</text></g>
<g id="node-GSK3B"><circle class="l13" cx="2323" cy="1239" r="64"/><text class="n" x="2323" y="1239" font-size="31">GSK3B</text></g>
<g id="node-SLC6A3"><circle class="l13" cx="2166" cy="1128" r="64"/><text class="n" x="2166" y="1128" font-size="31">SLC6A3</text></g>
<g id="node-APP"><circle class="l13" cx="2068" cy="965" r="64"/><text class="n" x="2068" y="965" font-size="31">APP</text></g>
<g id="node-CHRNA4"><circle class="l13" cx="2044" cy="775" r="63"/><text class="n" x="2044" y="775" font-size="31">CHRNA4</text></g>
<g id="node-ACHE"><circle class="l12" cx="2101" cy="593" r="61"/><text class="n" x="2101" y="593" font-size="30">ACHE</text></g>

<g id="node-PTGS2"><circle class="c1" cx="2499" cy="580" r="68"/><text class="n" x="2499" y="580" font-size="34">PTGS2</text></g>
<g id="node-HTR2A"><circle class="c2" cx="2672" cy="646" r="68"/><text class="n" x="2672" y="646" font-size="33">HTR2A</text></g>
<g id="node-SLC6A4"><circle class="c3" cx="2750" cy="814" r="68"/><text class="n" x="2750" y="814" font-size="33">SLC6A4</text></g>
<g id="node-ESR1"><circle class="c4" cx="2684" cy="989" r="67"/><text class="n" x="2684" y="989" font-size="32">ESR1</text></g>
<g id="node-MAOB"><circle class="c5" cx="2516" cy="1064" r="76"/><text class="n" x="2516" y="1064" font-size="37">MAOB</text></g>
<g id="node-DRD2"><circle class="c6" cx="2343" cy="1000" r="73"/><text class="n" x="2343" y="1000" font-size="35">DRD2</text></g>
<g id="node-MAOA"><circle class="c7" cx="2264" cy="831" r="71"/><text class="n" x="2264" y="831" font-size="35">MAOA</text></g>
<g id="node-IL1B"><circle class="c8" cx="2330" cy="658" r="70"/><text class="n" x="2330" y="658" font-size="34">IL1B</text></g>
</g>
</svg>
